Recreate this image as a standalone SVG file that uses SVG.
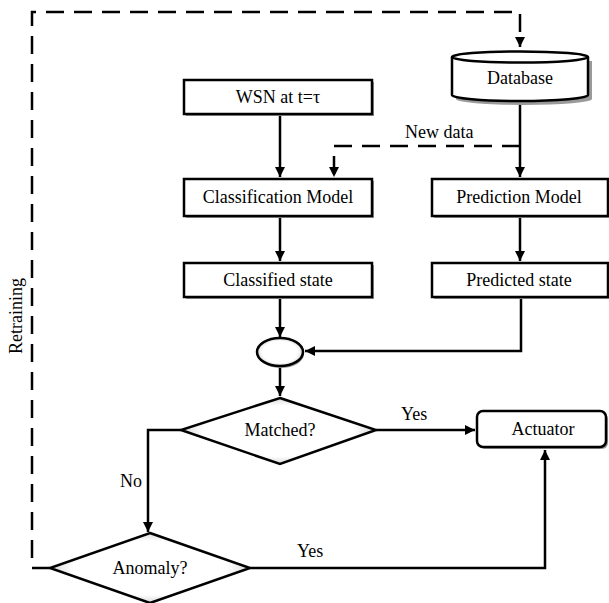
<svg xmlns="http://www.w3.org/2000/svg" width="609" height="603" viewBox="0 0 609 603">
<style>
.box{fill:#fff;stroke:#000;stroke-width:2.5}
.shadow{fill:#9a9a9a;stroke:none}
.ln{fill:none;stroke:#000;stroke-width:2.5}
.dash{fill:none;stroke:#000;stroke-width:2.5;stroke-dasharray:18 10}
.t{font-family:"Liberation Serif","Times New Roman",serif;font-size:18px;fill:#000;text-anchor:middle;dominant-baseline:central}
.lbl{font-family:"Liberation Serif","Times New Roman",serif;font-size:18px;fill:#000}
</style>
<defs>
<marker id="ah" viewBox="0 0 10 10" markerWidth="10" markerHeight="10" refX="10" refY="5" orient="auto" markerUnits="userSpaceOnUse">
<path d="M0,0 L10,5 L0,10 z" fill="#000"/>
</marker>
<radialGradient id="dg" cx="50%" cy="50%" r="55%">
<stop offset="0.7" stop-color="#fff"/>
<stop offset="1" stop-color="#c8c8c8"/>
</radialGradient>
</defs>
<rect width="609" height="603" fill="#fff"/>

<g id="connectors">
<path class="dash" d="M50,568 H32 V12 H520 V47" marker-end="url(#ah)"/>
<path class="dash" d="M520,146 H334 V177" marker-end="url(#ah)"/>
<path class="ln" d="M280,115 V177" marker-end="url(#ah)"/>
<path class="ln" d="M520,96 V177" marker-end="url(#ah)"/>
<path class="ln" d="M280,218 V261" marker-end="url(#ah)"/>
<path class="ln" d="M520,218 V261" marker-end="url(#ah)"/>
<path class="ln" d="M280,299 V337" marker-end="url(#ah)"/>
<path class="ln" d="M521,299 V351 H305" marker-end="url(#ah)"/>
<path class="ln" d="M280,367 V396" marker-end="url(#ah)"/>
<path class="ln" d="M376,430 H475" marker-end="url(#ah)"/>
<path class="ln" d="M181,430 H148 V532" marker-end="url(#ah)"/>
<path class="ln" d="M250,568 H545 V450" marker-end="url(#ah)"/>
<text class="lbl" x="405" y="138">New data</text>
<text class="lbl" x="401" y="420">Yes</text>
<text class="lbl" x="120" y="487">No</text>
<text class="lbl" x="297" y="557">Yes</text>
<text class="lbl" transform="translate(22,316) rotate(-90)" text-anchor="middle">Retraining</text>
</g>

<g id="database">
<path class="shadow" d="M454,59 V97 A68,6 0 0 0 590,97 V59 Z" transform="translate(2,2)"/>
<path class="box" d="M452,57 V95 A68,6 0 0 0 588,95 V57"/>
<ellipse class="box" cx="520" cy="57" rx="68" ry="5.5"/>
<text class="t" x="520" y="78">Database</text>
</g>

<g id="wsn">
<rect class="shadow" x="186" y="82" width="188" height="34"/>
<rect class="box" x="184" y="80" width="188" height="34"/>
<text class="t" x="278" y="97">WSN at t=τ</text>
</g>

<g id="classification">
<rect class="shadow" x="186" y="181" width="188" height="37"/>
<rect class="box" x="184" y="179" width="188" height="37"/>
<text class="t" x="278" y="197">Classification Model</text>
</g>

<g id="prediction">
<rect class="shadow" x="434" y="181" width="176" height="37"/>
<rect class="box" x="432" y="179" width="176" height="37"/>
<text class="t" x="519" y="197">Prediction Model</text>
</g>

<g id="classified">
<rect class="shadow" x="186" y="265" width="188" height="34"/>
<rect class="box" x="184" y="263" width="188" height="34"/>
<text class="t" x="278" y="280">Classified state</text>
</g>

<g id="predicted">
<rect class="shadow" x="434" y="265" width="176" height="34"/>
<rect class="box" x="432" y="263" width="176" height="34"/>
<text class="t" x="519" y="280">Predicted state</text>
</g>

<g id="junction">
<ellipse cx="281" cy="354" rx="23" ry="14" fill="#9a9a9a"/>
<ellipse cx="280" cy="352" rx="23" ry="14" fill="url(#dg)" stroke="#000" stroke-width="2.5"/>
</g>

<g id="matched">
<path d="M280,398 L376,430 L280,464 L181,430 Z" fill="url(#dg)" stroke="#000" stroke-width="2.5" stroke-linejoin="miter"/>
<text class="t" x="280" y="430">Matched?</text>
</g>

<g id="actuator">
<rect class="shadow" x="479" y="413" width="129" height="36" rx="6"/>
<rect class="box" x="477" y="411" width="129" height="36" rx="6"/>
<text class="t" x="543" y="429">Actuator</text>
</g>

<g id="anomaly">
<path d="M150,533 L250,568 L150,603 L50,568 Z" fill="url(#dg)" stroke="#000" stroke-width="2.5"/>
<text class="t" x="150" y="568">Anomaly?</text>
</g>
</svg>
